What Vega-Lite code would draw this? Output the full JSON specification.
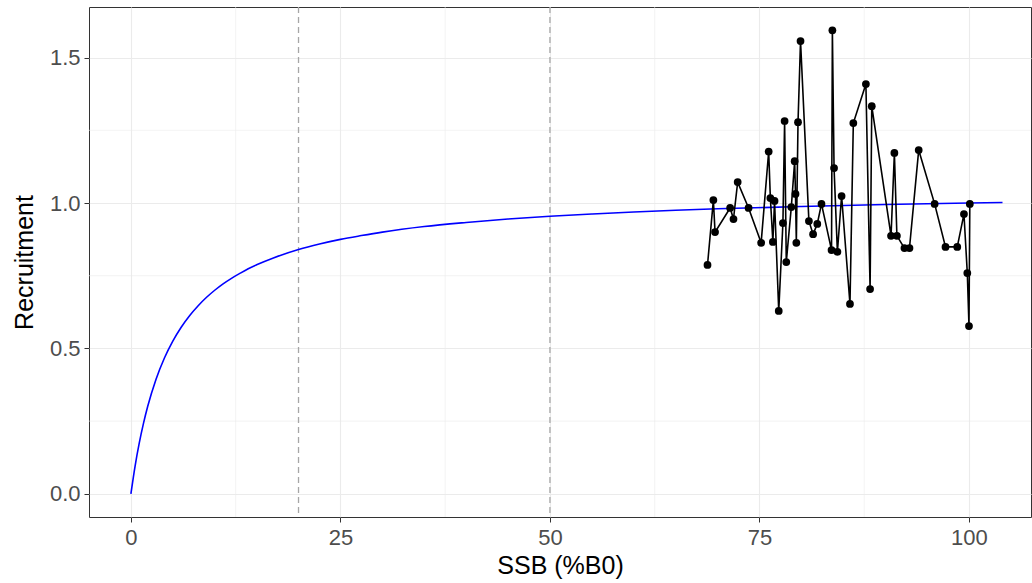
{
  "$schema": "https://vega.github.io/schema/vega-lite/v6.json",
  "width": 942,
  "height": 510,
  "padding": {"left": 89, "top": 7, "right": 1, "bottom": 66},
  "autosize": {"type": "none"},
  "background": "white",
  "config": {
    "view": {"stroke": "#333333", "strokeWidth": 1},
    "axis": {
      "domain": false,
      "grid": true,
      "gridColor": "#EBEBEB",
      "gridWidth": 1.1,
      "tickColor": "#333333",
      "tickSize": 5,
      "tickWidth": 1,
      "labelColor": "#4D4D4D",
      "labelFont": "Liberation Sans",
      "labelFontSize": 22,
      "titleFont": "Liberation Sans",
      "titleFontSize": 25,
      "titleFontWeight": "normal",
      "titleColor": "black"
    }
  },
  "datasets": {
    "obs": [
      {"x": 68.8, "y": 0.787},
      {"x": 69.5, "y": 1.010},
      {"x": 69.7, "y": 0.900},
      {"x": 71.5, "y": 0.983},
      {"x": 71.9, "y": 0.945},
      {"x": 72.4, "y": 1.072},
      {"x": 73.7, "y": 0.983},
      {"x": 75.2, "y": 0.863},
      {"x": 76.1, "y": 1.177},
      {"x": 76.3, "y": 1.017},
      {"x": 76.6, "y": 0.866},
      {"x": 76.8, "y": 1.007},
      {"x": 77.3, "y": 0.629},
      {"x": 77.8, "y": 0.931},
      {"x": 78.0, "y": 1.282},
      {"x": 78.2, "y": 0.797},
      {"x": 78.8, "y": 0.986},
      {"x": 79.2, "y": 1.144},
      {"x": 79.3, "y": 1.031},
      {"x": 79.4, "y": 0.863},
      {"x": 79.6, "y": 1.278},
      {"x": 79.9, "y": 1.557},
      {"x": 80.9, "y": 0.938},
      {"x": 81.4, "y": 0.893},
      {"x": 81.9, "y": 0.928},
      {"x": 82.4, "y": 0.997},
      {"x": 83.6, "y": 0.838},
      {"x": 83.7, "y": 1.594},
      {"x": 83.9, "y": 1.120},
      {"x": 84.3, "y": 0.832},
      {"x": 84.8, "y": 1.024},
      {"x": 85.8, "y": 0.653},
      {"x": 86.2, "y": 1.275},
      {"x": 87.7, "y": 1.409},
      {"x": 88.2, "y": 0.704},
      {"x": 88.4, "y": 1.333},
      {"x": 90.7, "y": 0.887},
      {"x": 91.1, "y": 1.172},
      {"x": 91.4, "y": 0.887},
      {"x": 92.3, "y": 0.845},
      {"x": 92.9, "y": 0.845},
      {"x": 94.0, "y": 1.182},
      {"x": 95.9, "y": 0.997},
      {"x": 97.2, "y": 0.849},
      {"x": 98.6, "y": 0.849},
      {"x": 99.4, "y": 0.962},
      {"x": 99.8, "y": 0.759},
      {"x": 100.0, "y": 0.577},
      {"x": 100.1, "y": 0.997}
    ],
    "curve": [
      {"x": 0, "y": 0},
      {"x": 0.5, "y": 0.0955},
      {"x": 1, "y": 0.175},
      {"x": 1.5, "y": 0.242},
      {"x": 2, "y": 0.300},
      {"x": 3, "y": 0.394},
      {"x": 4, "y": 0.467},
      {"x": 5, "y": 0.525},
      {"x": 6, "y": 0.573},
      {"x": 7, "y": 0.6125},
      {"x": 8, "y": 0.646},
      {"x": 9, "y": 0.675},
      {"x": 10, "y": 0.700},
      {"x": 11, "y": 0.722},
      {"x": 12, "y": 0.741},
      {"x": 13, "y": 0.758},
      {"x": 14, "y": 0.774},
      {"x": 15, "y": 0.7875},
      {"x": 17, "y": 0.811},
      {"x": 20, "y": 0.840},
      {"x": 22.5, "y": 0.859},
      {"x": 25, "y": 0.875},
      {"x": 27.5, "y": 0.888},
      {"x": 30, "y": 0.900},
      {"x": 35, "y": 0.919},
      {"x": 40, "y": 0.933},
      {"x": 45, "y": 0.945},
      {"x": 50, "y": 0.9545},
      {"x": 55, "y": 0.962},
      {"x": 60, "y": 0.969},
      {"x": 65, "y": 0.975},
      {"x": 70, "y": 0.980},
      {"x": 80, "y": 0.988},
      {"x": 90, "y": 0.9947},
      {"x": 100, "y": 1.0},
      {"x": 104, "y": 1.0018}
    ],
    "minorx": [{"x": 12.5}, {"x": 37.5}, {"x": 62.5}, {"x": 87.5}],
    "minory": [{"y": 0.25}, {"y": 0.75}, {"y": 1.25}],
    "refs": [{"x": 20}, {"x": 50}]
  },
  "layer": [
    {
      "data": {"name": "minorx"},
      "mark": {"type": "rule", "color": "#EBEBEB", "strokeWidth": 0.6},
      "encoding": {
        "x": {"field": "x", "type": "quantitative", "scale": {"domain": [-5, 107.4], "nice": false, "zero": false},
              "axis": {"values": [0, 25, 50, 75, 100], "title": "SSB (%B0)", "labelPadding": 5, "titlePadding": 5}}
      }
    },
    {
      "data": {"name": "minory"},
      "mark": {"type": "rule", "color": "#EBEBEB", "strokeWidth": 0.6},
      "encoding": {
        "y": {"field": "y", "type": "quantitative", "scale": {"domain": [-0.0797, 1.674], "nice": false, "zero": false},
              "axis": {"values": [0, 0.5, 1, 1.5], "format": ".1f", "title": "Recruitment", "labelPadding": 4, "titlePadding": 12}}
      }
    },
    {
      "data": {"name": "refs"},
      "mark": {"type": "rule", "color": "#A6A6A6", "strokeWidth": 1.3, "strokeDash": [6, 4]},
      "encoding": {"x": {"field": "x", "type": "quantitative"}}
    },
    {
      "data": {"name": "curve"},
      "mark": {"type": "line", "color": "#0000FF", "strokeWidth": 1.6, "interpolate": "monotone"},
      "encoding": {
        "x": {"field": "x", "type": "quantitative"},
        "y": {"field": "y", "type": "quantitative"}
      }
    },
    {
      "data": {"name": "obs"},
      "mark": {"type": "line", "color": "black", "strokeWidth": 1.6},
      "encoding": {
        "x": {"field": "x", "type": "quantitative"},
        "y": {"field": "y", "type": "quantitative"}
      }
    },
    {
      "data": {"name": "obs"},
      "mark": {"type": "point", "filled": true, "color": "black", "opacity": 1, "size": 60},
      "encoding": {
        "x": {"field": "x", "type": "quantitative"},
        "y": {"field": "y", "type": "quantitative"}
      }
    }
  ]
}
